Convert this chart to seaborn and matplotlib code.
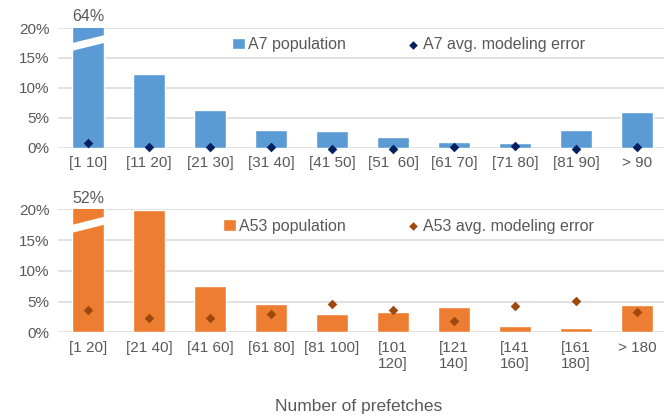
import numpy as np
import pandas as pd
import matplotlib
matplotlib.use("Agg")
import matplotlib.pyplot as plt
import seaborn as sns
from matplotlib.patches import Polygon

# --- data (percent) ---
a7_bins = ["[1 10]", "[11 20]", "[21 30]", "[31 40]", "[41 50]",
           "[51  60]", "[61 70]", "[71 80]", "[81 90]", "> 90"]
a7_population = [64, 12.3, 6.3, 3.05, 2.8, 1.85, 1.05, 0.8, 3.05, 6.05]
a7_error = [0.9, 0.1, 0.1, 0.1, -0.1, -0.1, 0.15, 0.4, -0.1, 0.15]

a53_bins = ["[1 20]", "[21 40]", "[41 60]", "[61 80]", "[81 100]",
            "[101\n120]", "[121\n140]", "[141\n160]", "[161\n180]", "> 180"]
a53_population = [52, 19.9, 7.6, 4.65, 3.0, 3.25, 4.2, 1.0, 0.75, 4.45]
a53_error = [3.6, 2.4, 2.4, 2.9, 4.55, 3.6, 1.85, 4.35, 5.1, 3.3]

sns.set_theme(style="white")
plt.rcParams['font.family'] = ['Liberation Sans', 'DejaVu Sans']
grey = "#595959"

fig = plt.figure(figsize=(6.64, 4.18), dpi=100)
ax1 = fig.add_axes([0.087, 0.646, 0.918, 0.287])
ax2 = fig.add_axes([0.087, 0.205, 0.918, 0.294])


def draw_panel(ax, bins, pop, err, bar_col, dot_col, name):
    df = pd.DataFrame({"bin": bins, "pop": pop, "err": err})
    sns.barplot(data=df, x="bin", y="pop", color=bar_col, width=0.52,
                saturation=1, ax=ax, label=name + " population")
    sns.scatterplot(data=df, x="bin", y="err", marker="D", s=24, color=dot_col,
                    edgecolor=dot_col, linewidth=0, ax=ax, zorder=5, clip_on=False,
                    label=name + " avg. modeling error")
    ax.set_ylim(0, 20)
    ax.set_xlim(-0.5, len(bins) - 0.5)
    ax.set_yticks([0, 5, 10, 15, 20])
    ax.set_yticklabels([f"{t}%" for t in [0, 5, 10, 15, 20]])
    ax.set_xticks(range(len(bins)))
    ax.set_xticklabels(bins, multialignment="center")
    ax.yaxis.grid(True, color="#D9D9D9", linewidth=1.1)
    ax.set_axisbelow(True)
    for s in ax.spines.values():
        s.set_visible(False)
    ax.tick_params(axis="both", length=0, labelsize=11, colors=grey, pad=6)
    ax.set_xlabel("")
    ax.set_ylabel("")
    # truncated first bar: value label + break mark
    ax.text(0, 20.6, f"{pop[0]:.0f}%", ha="center", va="bottom", fontsize=11.5, color=grey)
    ax.add_patch(Polygon([(-0.3, 16.1), (0.3, 17.6), (0.3, 18.9), (-0.3, 17.4)],
                         closed=True, facecolor="white", edgecolor="none", zorder=4))
    h, l = ax.get_legend_handles_labels()
    order = [l.index(name + " population"), l.index(name + " avg. modeling error")]
    ax.legend([h[i] for i in order], [l[i] for i in order], loc="center",
              bbox_to_anchor=(0.575, 0.865), ncol=2,
              frameon=False, fontsize=11.5, labelcolor=grey, columnspacing=3.8,
              handlelength=0.8, handletextpad=0.2, markerscale=0.9)


draw_panel(ax1, a7_bins, a7_population, a7_error, "#5B9BD5", "#002060", "A7")
draw_panel(ax2, a53_bins, a53_population, a53_error, "#ED7D31", "#9E480E", "A53")

fig.text(0.54, 0.028, "Number of prefetches", ha="center", va="center",
         fontsize=12.5, color=grey)

fig.savefig("out.png", dpi=100)
